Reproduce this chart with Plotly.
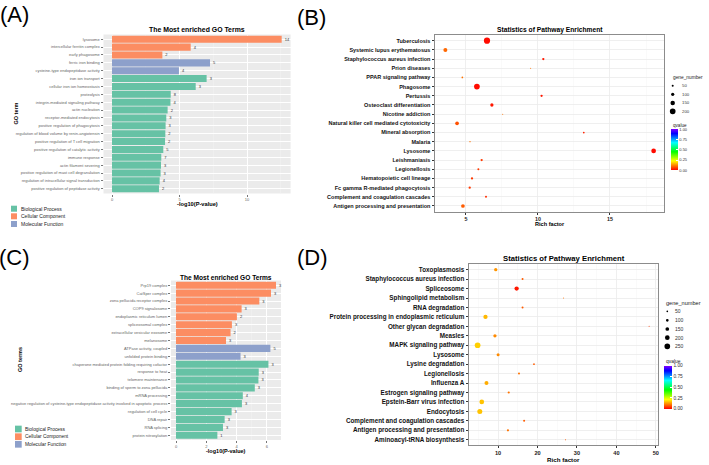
import plotly.graph_objects as go

W, H = 709, 465
FONT = "Liberation Sans"

# ---------------- data ----------------
GO_CATEGORIES = ["Biological Process", "Cellular Component", "Molecular Function"]
GO_COLORS = ["#66C2A5", "#FC8D62", "#8DA0CB"]

# Panel A - GO enrichment
a_terms = [
    "lysosome", "intercellular ferritin complex", "early phagosome",
    "ferric iron binding", "cysteine-type endopeptidase activity",
    "iron ion transport", "cellular iron ion homeostasis", "proteolysis",
    "integrin-mediated signaling pathway", "actin nucleation",
    "receptor-mediated endocytosis", "positive regulation of phagocytosis",
    "regulation of blood volume by renin-angiotensin",
    "positive regulation of T cell migration",
    "positive regulation of catalytic activity", "immune response",
    "actin filament severing", "positive regulation of mast cell degranulation",
    "regulation of intracellular signal transduction",
    "positive regulation of peptidase activity",
]
a_category = (["Cellular Component"] * 3 + ["Molecular Function"] * 2
              + ["Biological Process"] * 15)
a_log10p = [12.57, 5.83, 3.73, 7.26, 4.96, 7.01, 6.2, 4.35, 4.33, 4.12,
            4.02, 3.97, 3.95, 3.93, 3.8, 3.65, 3.63, 3.6, 3.53, 3.48]
a_counts = [14, 4, 2, 5, 4, 3, 3, 8, 4, 2, 3, 3, 2, 2, 5, 7, 3, 3, 4, 2]

# Panel C - GO enrichment
c_terms = [
    "Prp19 complex", "CatSper complex", "zona pellucida receptor complex",
    "COP9 signalosome", "endoplasmic reticulum lumen", "spliceosomal complex",
    "extracellular vesicular exosome", "melanosome",
    "ATPase activity, coupled", "unfolded protein binding",
    "chaperone mediated protein folding requiring cofactor", "response to heat",
    "telomere maintenance", "binding of sperm to zona pellucida",
    "mRNA processing",
    "negative regulation of cysteine-type endopeptidase activity involved in apoptotic process",
    "regulation of cell cycle", "DNA repair", "RNA splicing",
    "protein nitrosylation",
]
c_category = (["Cellular Component"] * 8 + ["Molecular Function"] * 2
              + ["Biological Process"] * 10)
c_log10p = [6.6, 6.27, 5.5, 4.33, 4.02, 3.69, 3.6, 3.3, 6.23, 4.26,
            6.1, 5.46, 5.44, 5.2, 4.41, 4.35, 3.67, 3.21, 3.1, 2.73]
c_counts = [3, 3, 3, 3, 2, 3, 2, 3, 5, 3, 3, 3, 3, 3, 4, 3, 3, 3, 3, 1]

# Panel B - KEGG pathway enrichment
b_pathways = [
    "Tuberculosis", "Systemic lupus erythematosus",
    "Staphylococcus aureus infection", "Prion diseases",
    "PPAR signaling pathway", "Phagosome", "Pertussis",
    "Osteoclast differentiation", "Nicotine addiction",
    "Natural killer cell mediated cytotoxicity", "Mineral absorption",
    "Malaria", "Lysosome", "Leishmaniasis", "Legionellosis",
    "Hematopoietic cell lineage", "Fc gamma R-mediated phagocytosis",
    "Complement and coagulation cascades",
    "Antigen processing and presentation",
]
b_rich = [6.46, 3.57, 10.37, 9.49, 4.75, 5.76, 10.25, 6.8, 7.55, 4.38,
          13.18, 5.28, 18.03, 6.09, 5.86, 5.42, 5.26, 6.39, 4.79]
b_genes = [220, 130, 62, 12, 38, 200, 62, 102, 12, 118,
           38, 22, 160, 62, 50, 62, 62, 50, 118]
b_qvalue = [0.01, 0.09, 0.02, 0.1, 0.1, 0.01, 0.02, 0.02, 0.1, 0.07,
            0.03, 0.1, 0.01, 0.05, 0.05, 0.05, 0.05, 0.04, 0.08]

# Panel D - KEGG pathway enrichment
d_pathways = [
    "Toxoplasmosis", "Staphylococcus aureus infection", "Spliceosome",
    "Sphingolipid metabolism", "RNA degradation",
    "Protein processing in endoplasmic reticulum", "Other glycan degradation",
    "Measles", "MAPK signaling pathway", "Lysosome", "Lysine degradation",
    "Legionellosis", "Influenza A", "Estrogen signaling pathway",
    "Epstein-Barr virus infection", "Endocytosis",
    "Complement and coagulation cascades",
    "Antigen processing and presentation", "Aminoacyl-tRNA biosynthesis",
]
d_rich = [9.4, 16.2, 14.7, 26.6, 16.2, 6.8, 48.3, 9.2, 4.8, 10.0,
          19.1, 15.3, 7.05, 12.7, 5.86, 5.36, 16.6, 12.5, 27.1]
d_genes = [130, 65, 180, 15, 65, 180, 15, 130, 250, 115,
           50, 65, 165, 75, 200, 215, 65, 75, 20]
d_qvalue = [0.13, 0.08, 0.02, 0.1, 0.08, 0.16, 0.05, 0.12, 0.18, 0.12,
            0.08, 0.1, 0.15, 0.1, 0.17, 0.17, 0.08, 0.1, 0.08]

b_size_breaks = [50, 100, 150, 200]
d_size_breaks = [50, 100, 150, 200, 250]
q_ticks = [0, 0.25, 0.5, 0.75, 1.0]
q_ticklabels = ["0.00", "0.25", "0.50", "0.75", "1.00"]

# ---------------- styling helpers ----------------
RAINBOW = [[0, "#FF0000"], [0.222, "#FFFF00"], [0.444, "#00FF00"],
           [0.667, "#00FFFF"], [0.889, "#0000FF"], [1, "#8000FF"]]


def px(x):
    return x / W


def py(y):
    return 1 - y / H


def size_b(g):
    return 0.77 + 0.0247 * g


def size_d(g):
    return 0.7 + 0.02 * g


fig = go.Figure()


def add_go_bars(terms, cats, vals, counts, xa, ya):
    for cat, col in zip(GO_CATEGORIES, GO_COLORS):
        idx = [i for i, c in enumerate(cats) if c == cat]
        fig.add_trace(go.Bar(
            x=[vals[i] for i in idx], y=[terms[i] for i in idx],
            orientation="h", width=0.9,
            marker=dict(color=col, line=dict(width=0)),
            text=[str(counts[i]) for i in idx], textposition="outside",
            textfont=dict(size=4, color="#333333", family=FONT),
            constraintext="none", cliponaxis=False,
            xaxis=xa, yaxis=ya, showlegend=False, hoverinfo="skip"))


def add_bubbles(paths, rich, genes, q, xa, ya, cax, sfun):
    fig.add_trace(go.Scatter(
        x=rich, y=paths, mode="markers",
        marker=dict(size=[sfun(g) for g in genes], color=q, coloraxis=cax,
                    line=dict(width=0), opacity=1),
        xaxis=xa, yaxis=ya, showlegend=False, cliponaxis=False,
        hoverinfo="skip"))


add_go_bars(a_terms, a_category, a_log10p, a_counts, "x", "y")
add_bubbles(b_pathways, b_rich, b_genes, b_qvalue, "x2", "y2", "coloraxis", size_b)
add_go_bars(c_terms, c_category, c_log10p, c_counts, "x3", "y3")
add_bubbles(d_pathways, d_rich, d_genes, d_qvalue, "x4", "y4", "coloraxis2", size_d)


def bar_xaxis(dom, rng, dtick, anchor):
    return dict(domain=dom, anchor=anchor, range=rng, tickmode="linear",
                tick0=0, dtick=dtick, ticks="outside", ticklen=2,
                tickcolor="#777777",
                tickfont=dict(size=4, color="#666666", family=FONT),
                showgrid=True, gridcolor="white", gridwidth=1,
                minor=dict(tickmode="linear", tick0=0, dtick=dtick / 2,
                           showgrid=True, gridcolor="#F4F4F4", gridwidth=0.5),
                zeroline=False, showline=False, fixedrange=True)


def bar_yaxis(dom, terms, anchor):
    n = len(terms)
    return dict(domain=dom, anchor=anchor, type="category",
                categoryorder="array", categoryarray=terms,
                range=[n - 0.4, -0.6], ticks="outside", ticklen=2,
                tickcolor="#777777",
                tickfont=dict(size=4, color="#666666", family=FONT),
                showgrid=True, gridcolor="white", gridwidth=1,
                zeroline=False, showline=False, automargin=False,
                fixedrange=True)


def dot_xaxis(dom, rng, dtick, anchor, fsize):
    return dict(domain=dom, anchor=anchor, range=rng, tickmode="linear",
                tick0=0, dtick=dtick, ticks="outside", ticklen=2,
                tickcolor="#333333",
                tickfont=dict(size=fsize, color="#222222", family=FONT,
                              weight="bold"),
                showgrid=True, gridcolor="#EBEBEB", gridwidth=0.8,
                minor=dict(tickmode="linear", tick0=0, dtick=dtick / 2,
                           showgrid=True, gridcolor="#F5F5F5", gridwidth=0.5),
                zeroline=False, showline=True, mirror=True,
                linecolor="#8C8C8C", linewidth=1, fixedrange=True)


def dot_yaxis(dom, paths, anchor, fsize):
    n = len(paths)
    return dict(domain=dom, anchor=anchor, type="category",
                categoryorder="array", categoryarray=paths,
                range=[n - 0.4, -0.6], ticks="outside", ticklen=2.5,
                tickcolor="#333333",
                tickfont=dict(size=fsize, color="#111111", family=FONT,
                              weight="bold"),
                showgrid=True, gridcolor="#EBEBEB", gridwidth=0.8,
                zeroline=False, showline=True, mirror=True,
                linecolor="#8C8C8C", linewidth=1, automargin=False,
                fixedrange=True)


def colorbar(x0, ytop, length, thick, fsize):
    return dict(x=px(x0), xanchor="left", y=py(ytop), yanchor="top",
                len=length, lenmode="pixels", thickness=thick,
                thicknessmode="pixels", xpad=0, ypad=0, outlinewidth=0,
                tickmode="array", tickvals=q_ticks, ticktext=q_ticklabels,
                ticks="inside", tickcolor="white", ticklen=2,
                tickfont=dict(size=fsize, color="#333333", family=FONT),
                title=dict(text=""))


annotations = []
shapes = []


def ann(text, x, y, size, bold=False, color="#000000", xanchor="center",
        angle=0, family=FONT):
    annotations.append(dict(
        text=text, x=px(x), y=py(y), xref="paper", yref="paper",
        xanchor=xanchor, yanchor="middle", showarrow=False, textangle=angle,
        font=dict(size=size, color=color, family=family,
                  weight="bold" if bold else "normal")))


# panel letters
ann("(A)", 15, 14, 22)
ann("(B)", 311, 17, 22)
ann("(C)", 15, 257, 22)
ann("(D)", 312, 257, 22)

# titles
ann("The Most enriched GO Terms", 197, 30, 6.9, bold=True)
ann("Statistics of Pathway Enrichment", 549.5, 29.5, 6.7, bold=True)
ann("The Most enriched GO Terms", 226, 277.5, 6.6, bold=True)
ann("Statistics of Pathway Enrichment", 563.5, 258, 7.7, bold=True)

# axis titles
ann("-log10(P-value)", 197, 204, 5.7, bold=True)
ann("-log10(P-value)", 226, 451, 5.5, bold=True)
ann("Rich factor", 549.5, 223.5, 5.6, bold=True)
ann("Rich factor", 563.5, 459.5, 6.2, bold=True)
ann("GO term", 15, 113.5, 5.5, bold=True, angle=-90)
ann("GO terms", 20, 360, 5.5, bold=True, angle=-90)

# grey backgrounds for GO panels
for xr, yr in (("x domain", "y domain"), ("x3 domain", "y3 domain")):
    shapes.append(dict(type="rect", xref=xr, yref=yr, x0=0, x1=1, y0=0, y1=1,
                       fillcolor="#EBEBEB", line=dict(width=0), layer="below"))


# GO category legends
def go_legend(x0, ycenters, sq, tx, fsize):
    for cat, col, yc in zip(GO_CATEGORIES, GO_COLORS, ycenters):
        shapes.append(dict(type="rect", xref="paper", yref="paper",
                           x0=px(x0), x1=px(x0 + sq),
                           y0=py(yc + sq / 2), y1=py(yc - sq / 2),
                           fillcolor=col, line=dict(width=0)))
        ann(cat, tx, yc, fsize, color="#222222", xanchor="left")


go_legend(11, [208.7, 216.3, 224.0], 6.0, 18.5, 5.0)
go_legend(15, [429.0, 436.7, 444.3], 6.7, 23.0, 4.9)


# gene_number legends
def size_legend(title, tx, ty, breaks, cx, ys, lx, sfun, tsize, lsize):
    ann(title, tx, ty, tsize, color="#222222", xanchor="left")
    for b, yc in zip(breaks, ys):
        d = sfun(b)
        shapes.append(dict(type="circle", xref="paper", yref="paper",
                           x0=px(cx - d / 2), x1=px(cx + d / 2),
                           y0=py(yc + d / 2), y1=py(yc - d / 2),
                           fillcolor="#000000", line=dict(width=0)))
        ann(str(b), lx, yc, lsize, color="#333333", xanchor="left")


size_legend("gene_number", 670.7, 77.7, b_size_breaks, 672.7,
            [85.7, 94.3, 103.0, 111.3], 679.5, size_b, 4.8, 4.3)
size_legend("gene_number", 664.3, 302.7, d_size_breaks, 667.3,
            [311.3, 320.3, 329.0, 337.7, 346.3], 673.3, size_d, 5.6, 5.0)

ann("qvalue", 670.7, 125.5, 4.6, color="#222222", xanchor="left")
ann("qvalue", 664.3, 361.0, 4.9, color="#222222", xanchor="left")

fig.update_layout(
    width=W, height=H, margin=dict(l=0, r=0, t=0, b=0),
    paper_bgcolor="white", plot_bgcolor="rgba(0,0,0,0)",
    barmode="overlay", showlegend=False,
    font=dict(family=FONT),
    xaxis=bar_xaxis([px(103.5), px(290.6)], [-0.63, 13.23], 5, "y"),
    yaxis=bar_yaxis([py(193.5), py(34.5)], a_terms, "x"),
    xaxis2=dot_xaxis([px(435), px(664)], [2.85, 18.75], 5, "y2", 5.3),
    yaxis2=dot_yaxis([py(211.5), py(35.2)], b_pathways, "x2", 5.5),
    xaxis3=bar_xaxis([px(171), px(281)], [-0.33, 6.93], 2, "y3"),
    yaxis3=bar_yaxis([py(440), py(280.5)], c_terms, "x3"),
    xaxis4=dot_xaxis([px(469), px(657.7)], [2.62, 50.48], 10, "y4", 5.6),
    yaxis4=dot_yaxis([py(445.4), py(264)], d_pathways, "x4", 6.3),
    coloraxis=dict(cmin=0, cmax=1, colorscale=RAINBOW,
                   colorbar=colorbar(670.7, 129.3, 41.4, 6.7, 4.0)),
    coloraxis2=dict(cmin=0, cmax=1, colorscale=RAINBOW,
                    colorbar=colorbar(664.3, 365.7, 43.3, 7.7, 4.8)),
    annotations=annotations, shapes=shapes,
)

fig.write_html(
    "out.html",
    config={"displayModeBar": False, "staticPlot": True},
    post_script="document.body.style.margin='0';document.body.style.overflow='hidden';",
)
